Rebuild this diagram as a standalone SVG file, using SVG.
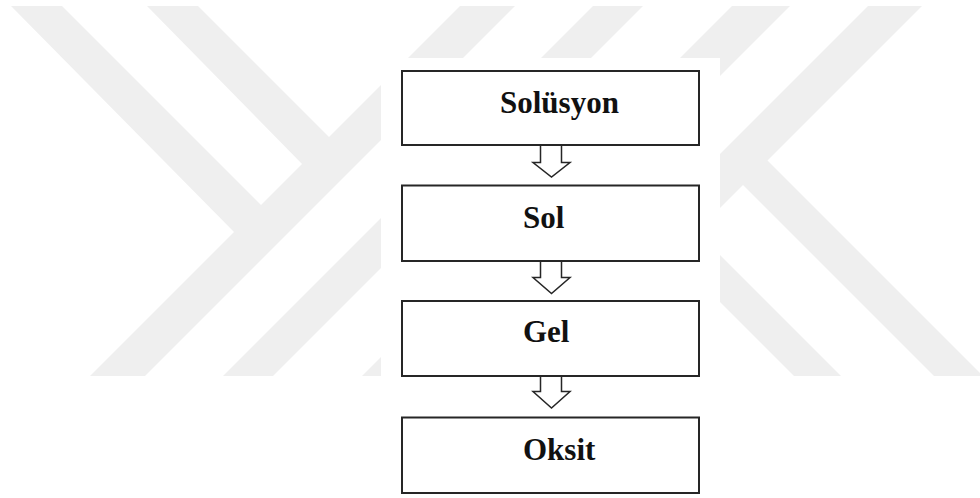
<svg xmlns="http://www.w3.org/2000/svg" width="980" height="498" viewBox="0 0 980 498">
  <defs>
    <style>
      .band { fill: #efefef; }
      .box { fill: #ffffff; stroke: #262626; stroke-width: 2; }
      .arrow { fill: #ffffff; stroke: #262626; stroke-width: 1.5; stroke-linejoin: miter; }
      .label { font-family: "Liberation Serif", "Times New Roman", serif; font-weight: bold; font-size: 31px; fill: #111111; }
    </style>
    <clipPath id="markClip">
      <rect x="0" y="6" width="980" height="370"/>
    </clipPath>
  </defs>

  <rect x="0" y="0" width="980" height="498" fill="#ffffff"/>

  <!-- background mark: diagonal bands -->
  <g id="watermark" clip-path="url(#markClip)">
    <polygon class="band" points="11,6 62,6 263,207 236,234"/>
    <polygon class="band" points="147,6 198,6 331,139 304,166"/>
    <polygon class="band" points="460,6 515,6 145,376 90,376"/>
    <polygon class="band" points="593,6 643,6 273,376 223,376"/>
    <polygon class="band" points="732,6 790,6 420,376 362,376"/>
    <polygon class="band" points="868,6 922,6 552,376 498,376"/>
    <polygon class="band" points="729,171 753.5,146.5 983,376 934,376"/>
    <polygon class="band" points="700,282 700,235 841,376 794,376"/>
  </g>

  <!-- plain panel behind the flow chart -->
  <rect x="381" y="58" width="339" height="440" fill="#ffffff"/>

  <g id="node-solusyon">
    <rect class="box" x="402" y="71" width="297" height="74"/>
    <text class="label" x="500" y="113">Solüsyon</text>
  </g>
  <g id="node-sol">
    <rect class="box" x="402" y="185.5" width="297" height="75.5"/>
    <text class="label" x="523" y="228">Sol</text>
  </g>
  <g id="node-gel">
    <rect class="box" x="402" y="301" width="297" height="75"/>
    <text class="label" x="523" y="342">Gel</text>
  </g>
  <g id="node-oksit">
    <rect class="box" x="402" y="417.5" width="297" height="75.5"/>
    <text class="label" x="523" y="460">Oksit</text>
  </g>

  <!-- hollow block arrows between the steps -->
  <g id="connectors">
    <path class="arrow" d="M540.5,146 V162.5 H533 L551.5,177 L570,162.5 H561.5 V146"/>
    <path class="arrow" d="M540.5,262 V277.5 H533 L551.5,293.5 L570,277.5 H561.5 V262"/>
    <path class="arrow" d="M540.5,377 V391.5 H533 L551.5,408 L570,391.5 H561.5 V377"/>
  </g>
</svg>
